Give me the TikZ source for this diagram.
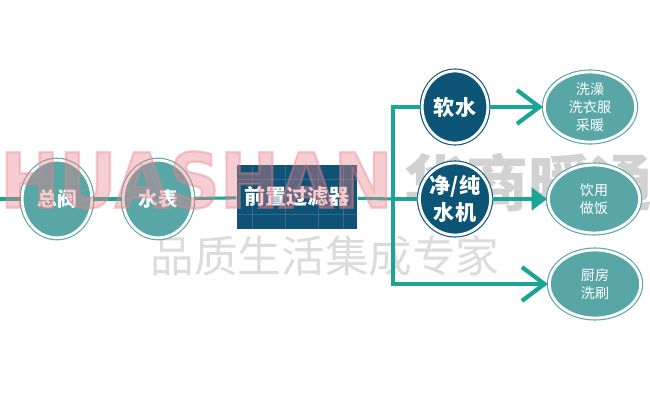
\documentclass[tikz,border=0pt]{standalone}
\usepackage{fontspec}
\setmainfont{Noto Sans CJK SC}
\newfontfamily\latinfont[FakeBold=3]{DejaVu Sans}
\usetikzlibrary{arrows.meta,shapes.geometric}
\definecolor{LineTeal}{RGB}{27,165,150}
\definecolor{NodeTeal}{RGB}{88,166,166}
\definecolor{NodeNavy}{RGB}{13,85,119}
\definecolor{BoxNavy}{RGB}{14,82,117}
\definecolor{MarkPink}{RGB}{232,132,140}
\definecolor{MarkGray}{RGB}{210,210,210}
\definecolor{MarkLight}{RGB}{220,220,220}

\begin{document}
\begin{tikzpicture}[x=0.025cm, y=-0.025cm,
    pipe/.style={draw=LineTeal, line width=2.2pt},
    branch/.style={draw=LineTeal, line width=3pt},
    ring/.style={ellipse, inner sep=0pt, fill=#1, draw=white, line width=2pt,
      preaction={draw=#1, line width=3.6pt}, text=white, align=center},
    station/.style={ring=NodeTeal, minimum width=1.74cm, minimum height=1.94cm,
      font=\fontsize{14}{16}\selectfont\bfseries},
    device/.style={ring=NodeNavy, minimum width=1.64cm, minimum height=1.8cm,
      font=\fontsize{15}{19}\selectfont\bfseries},
    usage/.style={ring=NodeTeal, minimum width=2.28cm, minimum height=1.7cm,
      font=\fontsize{10}{13}\selectfont},
    gridline/.style={draw=white, opacity=0.15, line width=0.5pt}]
    \useasboundingbox (0,0) rectangle (650,400);
    \node[anchor=west, text=MarkGray, font=\fontsize{44}{44}\selectfont\bfseries] (brand) at (400,183) {华商暖通};
    \node[text=MarkLight, font=\fontsize{31}{31}\selectfont] (motto) at (325,256) {品质生活集成专家};
    \coordinate (in) at (0,199);
    \coordinate (jn) at (393,199);
    \coordinate (jtop) at (393,107);
    \coordinate (jbot) at (393,284);
    \node[station] (valve) at (57,199) {总阀};
    \node[station] (meter) at (158,199) {水表};
    \node[fill=BoxNavy, minimum width=3.02cm, minimum height=1.62cm, text=white,
      font=\fontsize{15}{17}\selectfont\bfseries] (filter) at (297,197) {前置过滤器};
    \foreach \gx in {252,285,318,343}
      \draw[gridline] (filter.north -| \gx,0) -- (filter.south -| \gx,0);
    \foreach \gy in {179,214}
      \draw[gridline] (filter.west |- 0,\gy) -- (filter.east |- 0,\gy);
    \node[device] (soft) at (455,107) {软水};
    \node[device] (pure) at (455,199) {净/纯\\水机};
    \node[usage] (bath) at (590,107) {洗澡\\洗衣服\\采暖};
    \node[usage] (cook) at (594,199) {饮用\\做饭};
    \node[usage] (wash) at (595,284) {厨房\\洗刷};
    \draw[pipe] (in) -- (valve);
    \draw[pipe] (valve) -- (meter);
    \draw[pipe] (meter) -- (filter);
    \draw[pipe] (filter) -- (jn);
    \draw[branch, -{Straight Barb[length=16pt,width=24pt]}] (soft) -- (jtop) -- (jbot) -- (wash);
    \draw[branch, -{Straight Barb[length=16pt,width=24pt]}] (soft) -- (bath);
    \draw[branch] (jn) -- (pure);
    \draw[branch, -{Triangle[length=11pt,width=16pt]}] (pure) -- (cook);
    \node[anchor=east, text=MarkPink, opacity=0.4, inner sep=0pt, xscale=0.93,
      font=\latinfont\fontsize{54}{54}\selectfont\bfseries] (logo) at (393,180) {HUASHAN};
\end{tikzpicture}
\end{document}
